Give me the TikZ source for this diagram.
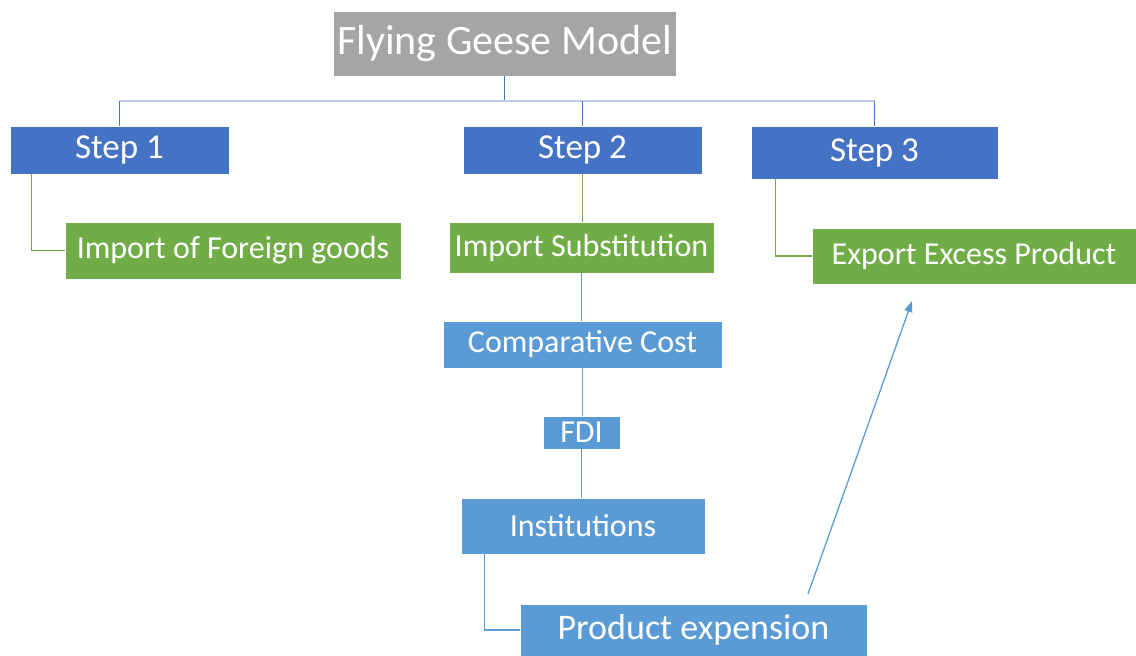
\documentclass[tikz,border=0pt]{standalone}
\usepackage{fontspec}
\setmainfont{Carlito}
\usetikzlibrary{arrows.meta,calc}

\definecolor{titlegray}{HTML}{A5A5A5}
\definecolor{stepblue}{HTML}{4472C4}
\definecolor{leafgreen}{HTML}{70AD47}
\definecolor{chainblue}{HTML}{5B9BD5}
\definecolor{busblue}{HTML}{8FAADC}

\tikzset{
  box/.style={rectangle, draw=white, line width=0.8pt, inner sep=0pt,
    text=white, align=center},
  titlebox/.style={box, fill=titlegray, font=\fontsize{42}{48}\selectfont},
  stepbox/.style={box, fill=stepblue, font=\fontsize{35}{42}\selectfont},
  leafbox/.style={box, fill=leafgreen, font=\fontsize{32}{38}\selectfont},
  chainbox/.style={box, fill=chainblue, font=\fontsize{32}{38}\selectfont},
  busline/.style={draw=stepblue, double=busblue!60, double distance=1.2pt, line width=0.7pt},
  stemline/.style={draw=stepblue, line width=1.2pt},
  greenline/.style={draw=leafgreen, line width=1.2pt},
  chainline/.style={draw=chainblue, line width=1.2pt},
}

\begin{document}
\begin{tikzpicture}[x=1pt, y=-1pt]
  \fill[white] (0,0) rectangle (1136,656);
  \useasboundingbox (0,0) rectangle (1136,656);

  % top of the hierarchy
  \node[titlebox, minimum width=343pt, minimum height=65pt] (title) at (504.5,43.5) {Flying Geese Model};

  % the three steps
  \node[stepbox, minimum width=219pt, minimum height=48pt] (step1) at (119.5,150) {Step 1};
  \node[stepbox, minimum width=239pt, minimum height=48pt] (step2) at (582.5,150) {Step 2};
  \node[stepbox, minimum width=247pt, minimum height=53pt] (step3) at (874.5,152.5) {Step 3};

  % what happens in each step
  \node[leafbox, minimum width=336pt, minimum height=57pt] (foreign) at (233,250.5) {Import of Foreign goods};
  \node[leafbox, minimum width=265pt, minimum height=51pt] (subst) at (581.5,247.5) {Import Substitution};
  \node[leafbox, minimum width=324pt, minimum height=56pt] (export) at (974,256) {Export Excess Product};

  % chain below import substitution
  \node[chainbox, minimum width=279pt, minimum height=47pt] (cost) at (582.5,344.5) {Comparative Cost};
  \node[chainbox, minimum width=77pt, minimum height=33pt] (fdi) at (581.5,432.5) {FDI};
  \node[chainbox, minimum width=244pt, minimum height=56pt] (inst) at (583,526) {Institutions};
  \node[chainbox, minimum width=347pt, minimum height=52pt, font=\fontsize{36}{42}\selectfont] (prod) at (693.5,630) {Product expension};

  % bus from the title to the steps
  \coordinate (bus) at (504.5,101);
  \draw[stemline] (title.south) -- (bus);
  \draw[busline] (step1.north |- bus) -- (step3.north |- bus);
  \draw[stemline] (step1.north |- bus) -- (step1.north);
  \draw[stemline] (step2.north |- bus) -- (step2.north);
  \draw[stemline] (step3.north |- bus) -- (step3.north);

  % steps to their items
  \draw[greenline] ([xshift=22pt]step1.south west) |- (foreign.west);
  \draw[greenline] (step2.south) -- (step2.south |- subst.north);
  \draw[greenline] ([xshift=25pt]step3.south west) |- (export.west);

  % the chain
  \draw[chainline] (subst.south) -- (subst.south |- cost.north);
  \draw[chainline] (cost.south) -- (cost.south |- fdi.north);
  \draw[chainline] (fdi.south) -- (fdi.south |- inst.north);
  \draw[chainline] ([xshift=24pt]inst.south west) |- (prod.west);

  % product expansion feeds exports
  \coordinate (atail) at (808,594);
  \coordinate (ahead) at (912,301);
  \draw[chainline, line width=1.3pt, -{Triangle[length=11pt,width=8pt]}] (atail) -- (ahead);
\end{tikzpicture}
\end{document}
